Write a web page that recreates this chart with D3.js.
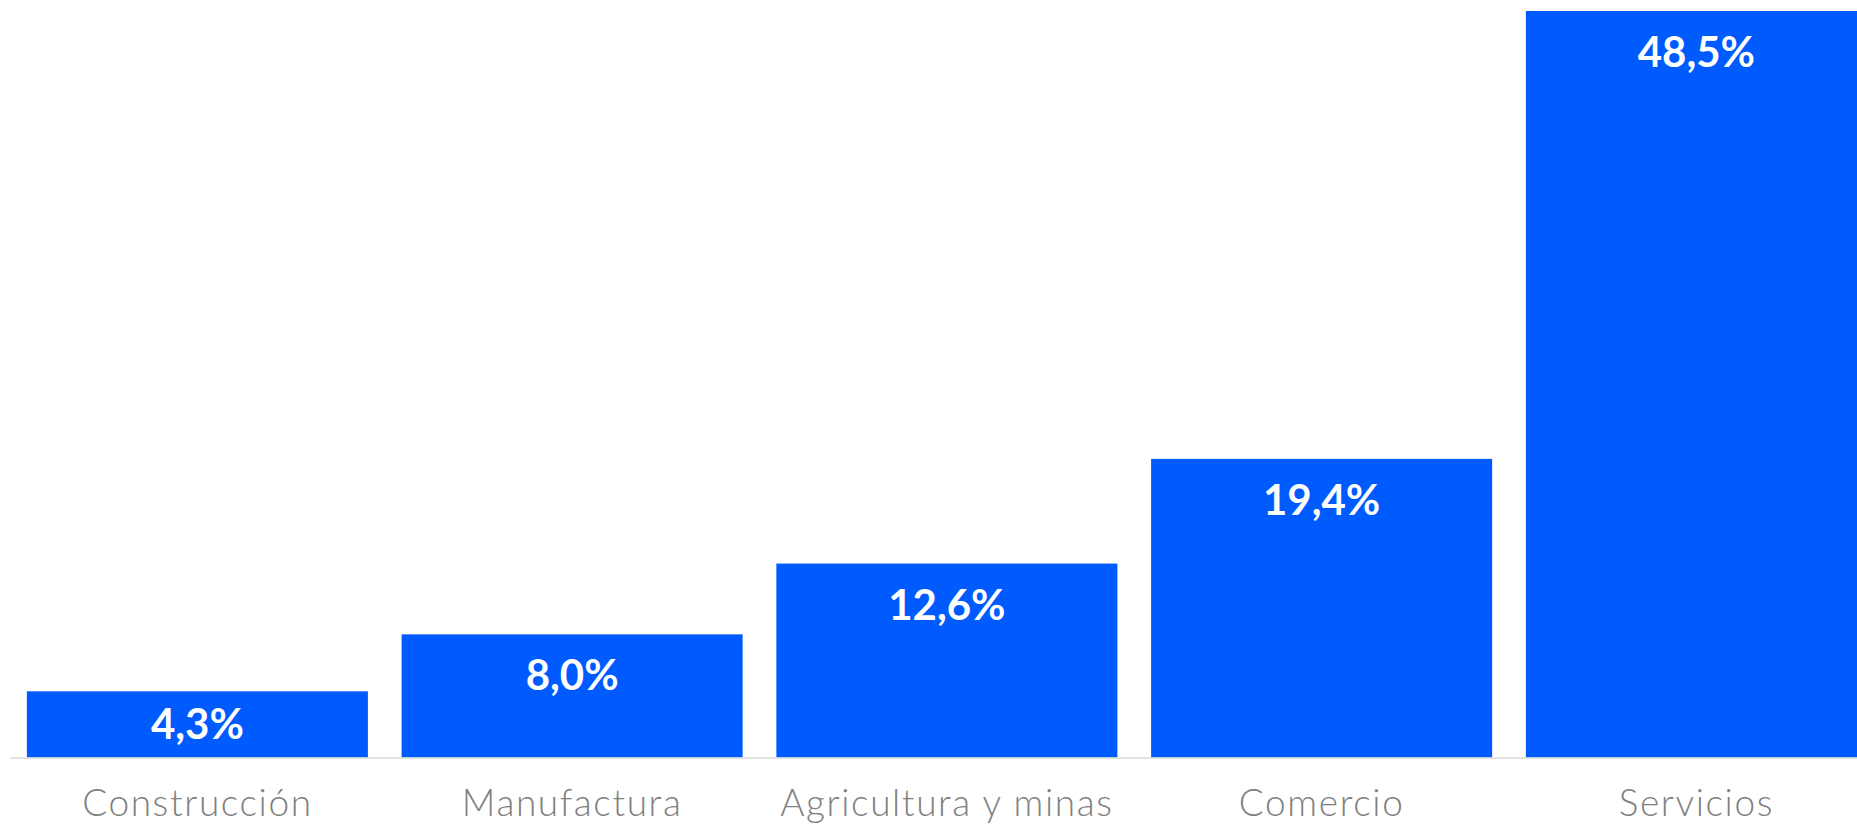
<!DOCTYPE html>
<html>
<head>
<meta charset="utf-8">
<script src="https://cdn.jsdelivr.net/npm/d3@7"></script>
<style>
  html, body { margin: 0; padding: 0; background: #ffffff; overflow: hidden; }
  svg { display: block; }
</style>
</head>
<body>
<svg id="chart" width="1857" height="825"></svg>
<script>
const categories = ["Construcción", "Manufactura", "Agricultura y minas", "Comercio", "Servicios"];
const values = [4.3, 8.0, 12.6, 19.4, 48.5];
const valueLabels = ["4,3%", "8,0%", "12,6%", "19,4%", "48,5%"];

const svg = d3.select("#chart");
const W = 1857, H = 825;
const baseY = 757.5;

const x = d3.scaleBand()
  .domain(categories)
  .range([10, 1883.75])
  .paddingInner(0.09)
  .paddingOuter(0.045);

const y = d3.scaleLinear()
  .domain([0, 48.5])
  .range([baseY, 11]);

const data = categories.map((c, i) => ({ c, v: values[i], label: valueLabels[i] }));

svg.append("g").selectAll("rect")
  .data(data)
  .enter().append("rect")
  .attr("x", d => x(d.c))
  .attr("y", d => y(d.v))
  .attr("width", x.bandwidth())
  .attr("height", d => y(0) - y(d.v))
  .attr("fill", "#005bff");

// axis baseline
svg.append("line")
  .attr("x1", 10).attr("x2", W)
  .attr("y1", baseY + 0.5).attr("y2", baseY + 0.5)
  .attr("stroke", "#d9d9d9")
  .attr("stroke-width", 1.5);

// category labels via axis
const axis = d3.axisBottom(x).tickSize(0).tickPadding(0);
const ag = svg.append("g")
  .attr("transform", `translate(0, ${baseY})`)
  .call(axis);
ag.select(".domain").remove();
ag.selectAll("text")
  .attr("dy", null)
  .attr("y", 58)
  .attr("fill", "#808080")
  .style("font-family", "Lato, 'Open Sans', sans-serif")
  .style("font-size", "37px")
  .style("font-weight", "300")
  .style("letter-spacing", "1.6px");

// value labels
const capH = 30;
svg.append("g").selectAll("text")
  .data(data)
  .enter().append("text")
  .attr("x", d => x(d.c) + x.bandwidth() / 2)
  .attr("y", d => {
    const top = y(d.v);
    const center = (top + y(0)) / 2;
    return Math.min(top + 56, center + capH / 2);
  })
  .attr("text-anchor", "middle")
  .attr("fill", "#ffffff")
  .style("font-family", "Lato, 'Open Sans', sans-serif")
  .style("font-size", "42px")
  .style("font-weight", "700")
  .text(d => d.label);
</script>
</body>
</html>
